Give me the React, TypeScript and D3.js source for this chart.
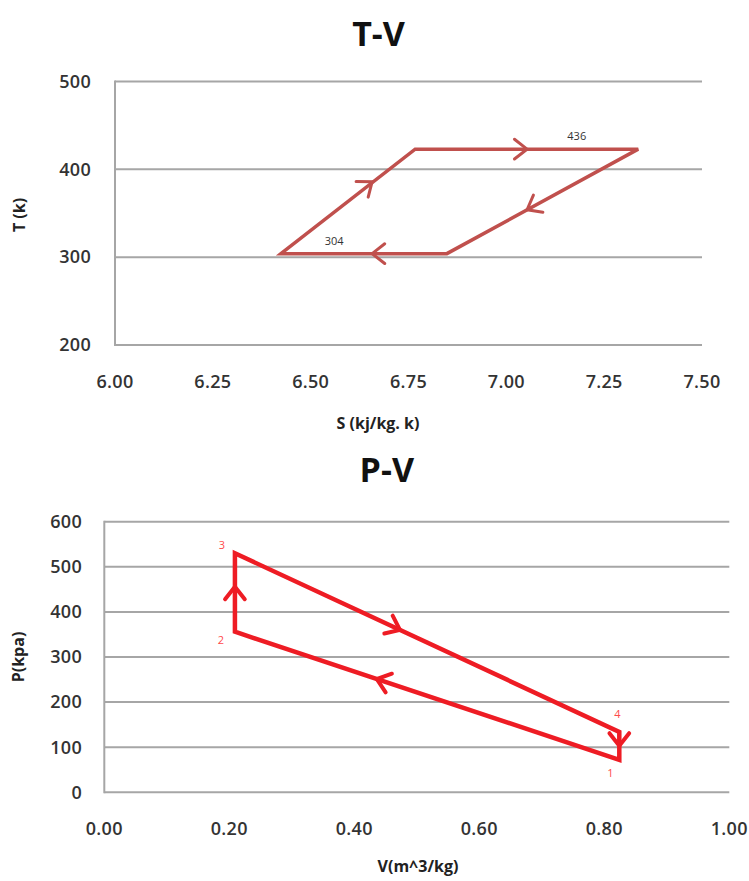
import React from 'react'
import * as d3 from 'd3'

// T-S cycle
const tsEntropy = [6.424, 6.767, 7.337, 6.848]
const tsTemp = [304, 423, 423, 304]
const tsArrowSeg = [0, 1, 2, 3]
const tsArrowS = [6.657, 7.053, 7.053, 6.657]
const tsArrowT = [386, 423, 354, 304]
const tsNoteText = ['436', '304']
const tsNoteS = [7.18, 6.56]
const tsNoteT = [423, 304]
const tsYTicks = [200, 300, 400, 500]
const tsXTicks = [6.0, 6.25, 6.5, 6.75, 7.0, 7.25, 7.5]

// P-V cycle
const pvVolume = [0.824, 0.209, 0.209, 0.824]
const pvPressure = [72, 356, 530, 134]
const pvPointNames = ['1', '2', '3', '4']
const pvArrowSeg = [0, 1, 2, 3]
const pvArrowV = [0.436, 0.209, 0.473, 0.824]
const pvArrowP = [251, 456, 360, 103]
const pvYTicks = [0, 100, 200, 300, 400, 500, 600]
const pvXTicks = [0, 0.2, 0.4, 0.6, 0.8, 1.0]

const FONT = '"Open Sans", "Liberation Sans", sans-serif'
const GRID = '#a6a6a6'
const TICK = '#333'

type Props = {
  title: string
  titleY: number
  xlab: string
  ylab: string
  xs: number[]
  ys: number[]
  xDomain: [number, number]
  yDomain: [number, number]
  xRange: [number, number]
  yRange: [number, number]
  xTicks: number[]
  yTicks: number[]
  xFmt: (d: number) => string
  color: string
  lineWidth: number
  arrowSeg: number[]
  arrowX: number[]
  arrowY: number[]
  xTickY: number
  yTickX: number
  xlabPos: [number, number]
  ylabPos: [number, number]
  children?: (x: d3.ScaleLinear<number, number>, y: d3.ScaleLinear<number, number>) => React.ReactNode
}

const CycleChart = (p: Props) => {
  const x = d3.scaleLinear().domain(p.xDomain).range(p.xRange)
  const y = d3.scaleLinear().domain(p.yDomain).range(p.yRange)
  const pts: [number, number][] = p.xs.map((v, i) => [x(v), y(p.ys[i])])
  const line = d3.line().curve(d3.curveLinearClosed)
  const arm = 16
  const spread = (38 * Math.PI) / 180

  return (
    <g>
      <text x={(p.xRange[0] + p.xRange[1]) / 2 - 30} y={p.titleY} textAnchor="middle"
        fontFamily={FONT} fontWeight="bold" fontSize={34} fill="#111">{p.title}</text>

      {p.yTicks.map(t => (
        <g key={t}>
          <line x1={p.xRange[0]} x2={p.xRange[1]} y1={y(t)} y2={y(t)} stroke={GRID} strokeWidth={2} />
          <text x={p.yTickX} y={y(t)} dy="0.35em" textAnchor="end" fontFamily={FONT}
            fontSize={18} fontWeight={600} fill={TICK} letterSpacing={0.3}>{t}</text>
        </g>
      ))}
      <line x1={p.xRange[0]} x2={p.xRange[0]} y1={p.yRange[0] + 1} y2={p.yRange[1] - 1} stroke={GRID} strokeWidth={2} />

      {p.xTicks.map(t => (
        <text key={t} x={x(t)} y={p.xTickY} dy="0.35em" textAnchor="middle" fontFamily={FONT}
          fontSize={18} fontWeight={600} fill={TICK} letterSpacing={0.3}>{p.xFmt(t)}</text>
      ))}

      <text x={p.xlabPos[0]} y={p.xlabPos[1]} dy="0.35em" textAnchor="middle" fontFamily={FONT}
        fontWeight="bold" fontSize={16} fill="#222">{p.xlab}</text>
      <text transform={`translate(${p.ylabPos[0]},${p.ylabPos[1]}) rotate(-90)`} dy="0.35em"
        textAnchor="middle" fontFamily={FONT} fontWeight="bold" fontSize={16} fill="#222">{p.ylab}</text>

      <path d={line(pts) || ''} fill="none" stroke={p.color} strokeWidth={p.lineWidth} strokeLinejoin="miter" />

      {p.arrowSeg.map((s, i) => {
        const a = pts[s]
        const b = pts[(s + 1) % pts.length]
        const ang = Math.atan2(b[1] - a[1], b[0] - a[0])
        const tx = x(p.arrowX[i])
        const ty = y(p.arrowY[i])
        const l = [tx - arm * Math.cos(ang - spread), ty - arm * Math.sin(ang - spread)]
        const r = [tx - arm * Math.cos(ang + spread), ty - arm * Math.sin(ang + spread)]
        return (
          <path key={i} d={`M${l[0]},${l[1]}L${tx},${ty}L${r[0]},${r[1]}`} fill="none"
            stroke={p.color} strokeWidth={p.lineWidth - 0.5} strokeLinecap="round" />
        )
      })}
      {p.children && p.children(x, y)}
    </g>
  )
}

const App = () => {
  return (
    <svg width={749} height={881} style={{ position: 'absolute', left: 0, top: 0, background: '#fff' }}>
      <CycleChart
        title="T-V" titleY={46}
        xlab="S (kj/kg. k)" ylab="T (k)"
        xs={tsEntropy} ys={tsTemp}
        xDomain={[6, 7.5]} yDomain={[200, 500]}
        xRange={[115, 702]} yRange={[345, 81.5]}
        xTicks={tsXTicks} yTicks={tsYTicks}
        xFmt={d3.format('.2f')}
        color="#c0504d" lineWidth={3.5}
        arrowSeg={tsArrowSeg} arrowX={tsArrowS} arrowY={tsArrowT}
        xTickY={382} yTickX={91}
        xlabPos={[378, 423]} ylabPos={[19, 215]}
      >
        {(x, y) => tsNoteText.map((t, i) => (
          <text key={t} x={x(tsNoteS[i])} y={y(tsNoteT[i]) - 13} dy="0.35em" textAnchor="middle"
            fontFamily={FONT} fontSize={11} fill="#333">{t}</text>
        ))}
      </CycleChart>

      <CycleChart
        title="P-V" titleY={482}
        xlab="V(m^3/kg)" ylab="P(kpa)"
        xs={pvVolume} ys={pvPressure}
        xDomain={[0, 1]} yDomain={[0, 600]}
        xRange={[104.3, 729.3]} yRange={[792.3, 521.7]}
        xTicks={pvXTicks} yTicks={pvYTicks}
        xFmt={d3.format('.2f')}
        color="#ee1c24" lineWidth={4.5}
        arrowSeg={pvArrowSeg} arrowX={pvArrowV} arrowY={pvArrowP}
        xTickY={829} yTickX={82}
        xlabPos={[418, 866]} ylabPos={[18, 657]}
      >
        {(x, y) => pvPointNames.map((n, i) => {
          const dx = [-9, -14, -13, -2][i]
          const dy = [13, 8, -8, -18][i]
          return (
            <text key={n} x={x(pvVolume[i]) + dx} y={y(pvPressure[i]) + dy} dy="0.35em" textAnchor="middle"
              fontFamily={FONT} fontSize={11} fill="#ff4a4a">{n}</text>
          )
        })}
      </CycleChart>
    </svg>
  )
}

export default App
